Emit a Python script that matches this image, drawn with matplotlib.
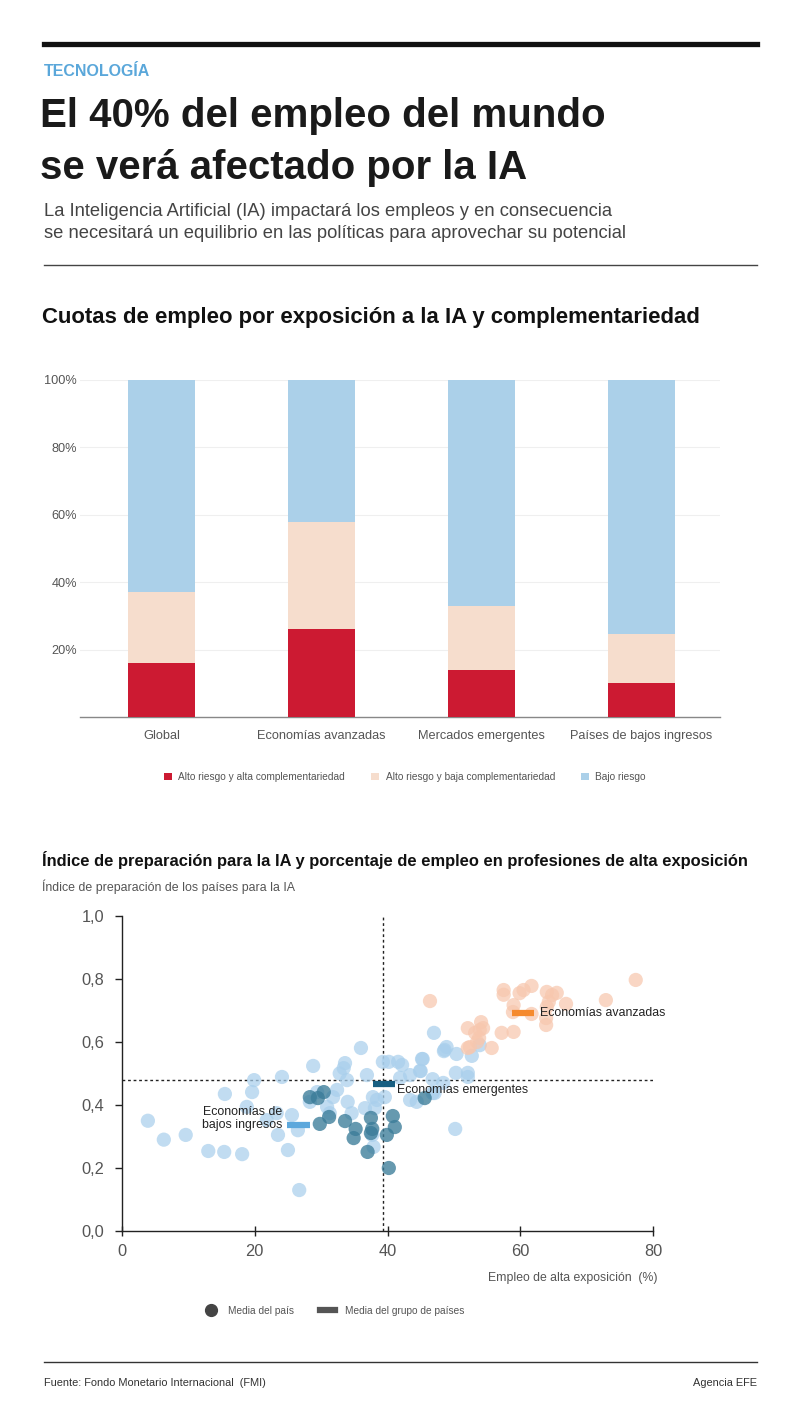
import matplotlib
matplotlib.use("Agg")
import matplotlib.pyplot as plt
from matplotlib.lines import Line2D
import numpy as np

plt.rcParams['font.family'] = ['Liberation Sans', 'DejaVu Sans']

W, H = 800, 1426

# ---- datos: gráfico de barras ----
grupos = ["Global", "Economías avanzadas", "Mercados emergentes", "Países de bajos ingresos"]
alto_alta = [16, 26, 14, 10]
alto_baja = [21, 32, 19, 14.5]
bajo_riesgo = [63, 42, 67, 75.5]
series_barras = ["Alto riesgo y alta complementariedad", "Alto riesgo y baja complementariedad", "Bajo riesgo"]

# ---- datos: dispersión (exposición %, índice de preparación) ----
avanz_x = [46.4, 57.5, 57.5, 59.9, 60.5, 61.7, 59.0, 58.9, 61.7, 64.0, 64.8, 65.5, 64.3, 64.0,
           66.9, 63.9, 63.9, 72.9, 77.4, 52.1, 54.1, 53.9, 53.2, 54.4, 53.8, 53.5, 57.2, 59.0,
           52.4, 52.1, 55.7]
avanz_y = [0.73, 0.765, 0.75, 0.755, 0.765, 0.778, 0.717, 0.695, 0.689, 0.759, 0.749, 0.756,
           0.727, 0.711, 0.721, 0.676, 0.654, 0.733, 0.797, 0.644, 0.663, 0.638, 0.629, 0.644,
           0.613, 0.60, 0.629, 0.632, 0.584, 0.581, 0.581]

emerg_x = [3.9, 6.3, 9.6, 13.0, 15.4, 18.1, 15.5, 19.6, 19.9, 24.1, 18.8, 21.8, 23.3, 23.5,
           25.0, 25.6, 26.5, 26.7, 28.8, 28.3, 29.4, 30.9, 31.3, 31.8, 32.4, 32.8, 33.6, 33.4,
           33.9, 34.0, 34.6, 36.0, 36.9, 36.6, 37.8, 38.4, 38.1, 37.7, 37.9, 39.3, 40.2, 41.6,
           42.2, 41.9, 43.4, 45.2, 44.9, 47.0, 48.6, 48.9, 43.4, 44.4, 46.8, 39.6, 48.5, 50.4,
           52.7, 45.0, 50.3, 52.1, 52.1, 46.8, 48.4, 47.1, 50.2, 53.9, 45.3]
emerg_y = [0.35, 0.29, 0.305, 0.254, 0.251, 0.244, 0.435, 0.441, 0.479, 0.489, 0.394, 0.352,
           0.374, 0.305, 0.257, 0.368, 0.32, 0.13, 0.524, 0.41, 0.441, 0.394, 0.374, 0.425,
           0.448, 0.50, 0.533, 0.517, 0.479, 0.41, 0.374, 0.581, 0.495, 0.39, 0.425, 0.416,
           0.39, 0.305, 0.267, 0.537, 0.537, 0.537, 0.527, 0.486, 0.495, 0.546, 0.508, 0.629,
           0.575, 0.584, 0.416, 0.41, 0.438, 0.425, 0.571, 0.562, 0.556, 0.508, 0.502, 0.502,
           0.489, 0.482, 0.47, 0.438, 0.324, 0.59, 0.546]

bajos_x = [28.3, 29.5, 30.4, 29.8, 31.2, 33.6, 35.2, 34.9, 37.5, 37.7, 37.5, 37.0, 39.9, 40.8,
           41.1, 40.2, 45.6]
bajos_y = [0.425, 0.422, 0.441, 0.34, 0.362, 0.349, 0.324, 0.295, 0.359, 0.324, 0.311, 0.251,
           0.305, 0.365, 0.33, 0.20, 0.422]

# medias de grupo
media_nombres = ["Economías avanzadas", "Economías emergentes", "Economías de\nbajos ingresos"]
media_x = [60.4, 39.5, 26.6]
media_y = [0.692, 0.467, 0.337]
media_col = ["#F58A2E", "#185F82", "#5DA8DC"]
ref_x = 39.3
ref_y = 0.479

rojo = "#CC1A32"
melocoton = "#F6DDCD"
azul = "#ABD0E9"
gris = "#555555"


def fy(py):
    return 1 - py / H


def fx(px):
    return px / W


fig = plt.figure(figsize=(W / 100, H / 100), dpi=100)

# ---- cabecera ----
fig.add_artist(Line2D([fx(44), fx(757)], [fy(44), fy(44)], color="#111111", lw=3.8))
fig.text(fx(44), fy(71), "TECNOLOGÍA", color="#5AA7DA", fontsize=11.5, fontweight="bold", va="center")
fig.text(fx(40), fy(116), "El 40% del empleo del mundo", color="#1a1a1a", fontsize=29,
         fontweight="bold", va="center")
fig.text(fx(40), fy(168), "se verá afectado por la IA", color="#1a1a1a", fontsize=29,
         fontweight="bold", va="center")
fig.text(fx(44), fy(211), "La Inteligencia Artificial (IA) impactará los empleos y en consecuencia",
         color="#444444", fontsize=13.2, va="center")
fig.text(fx(44), fy(234), "se necesitará un equilibrio en las políticas para aprovechar su potencial",
         color="#444444", fontsize=13.2, va="center")
fig.add_artist(Line2D([fx(44), fx(757)], [fy(265), fy(265)], color="#444444", lw=1.0))

# ---- gráfico de barras ----
fig.text(fx(42), fy(318), "Cuotas de empleo por exposición a la IA y complementariedad",
         color="#111111", fontsize=15.9, fontweight="bold", va="center")

ax1 = fig.add_axes([fx(80), fy(717), fx(720) - fx(80), fy(380) - fy(717)])
pos = np.arange(len(grupos))
b1 = ax1.bar(pos, alto_alta, width=0.42, color=rojo, label=series_barras[0], zorder=3)
b2 = ax1.bar(pos, alto_baja, width=0.42, bottom=alto_alta, color=melocoton,
             label=series_barras[1], zorder=3)
base2 = np.array(alto_alta) + np.array(alto_baja)
b3 = ax1.bar(pos, bajo_riesgo, width=0.42, bottom=base2, color=azul, label=series_barras[2], zorder=3)
ax1.set_xlim(-0.51, 3.49)
ax1.set_ylim(0, 100)
ax1.set_yticks([20, 40, 60, 80, 100])
ax1.set_yticklabels(["20%", "40%", "60%", "80%", "100%"])
ax1.set_xticks(pos)
ax1.set_xticklabels(grupos)
ax1.tick_params(axis="both", length=0, labelsize=9.2, labelcolor=gris)
ax1.tick_params(axis="x", pad=9)
ax1.tick_params(axis="y", pad=2)
ax1.grid(axis="y", color="#EFEFEF", lw=0.8, zorder=0)
for s in ["top", "right", "left"]:
    ax1.spines[s].set_visible(False)
ax1.spines["bottom"].set_color("#888888")
ax1.spines["bottom"].set_linewidth(1.0)

leg1 = fig.legend(handles=[b1, b2, b3], loc="center", bbox_to_anchor=(fx(405), fy(777)), ncol=3,
                  frameon=False, fontsize=7.3, handlelength=0.8, handleheight=0.8,
                  columnspacing=2.6, handletextpad=0.6)
for t in leg1.get_texts():
    t.set_color(gris)

# ---- gráfico de dispersión ----
fig.text(fx(42), fy(860),
         "Índice de preparación para la IA y porcentaje de empleo en profesiones de alta exposición",
         color="#111111", fontsize=11.9, fontweight="bold", va="center")
fig.text(fx(42), fy(887), "Índice de preparación de los países para la IA", color=gris,
         fontsize=8.9, va="center")

ax2 = fig.add_axes([fx(122), fy(1231), fx(653) - fx(122), fy(916) - fy(1231)])
ax2.scatter(emerg_x, emerg_y, s=105, color="#A9CFEC", alpha=0.72, edgecolors="none", zorder=2)
ax2.scatter(avanz_x, avanz_y, s=105, color="#F7C7AE", alpha=0.72, edgecolors="none", zorder=2)
ax2.scatter(bajos_x, bajos_y, s=105, color="#3B7C99", alpha=0.78, edgecolors="none", zorder=3)
ax2.axvline(ref_x, color="#222222", lw=1.0, ls=(0, (2, 2)), zorder=1)
ax2.axhline(ref_y, color="#222222", lw=1.0, ls=(0, (2, 2)), zorder=1)
for i in range(3):
    ax2.plot([media_x[i] - 1.7, media_x[i] + 1.7], [media_y[i], media_y[i]], color=media_col[i],
             lw=4.5, solid_capstyle="butt", zorder=4)
ax2.text(media_x[0] + 2.6, media_y[0], media_nombres[0], fontsize=8.9, color="#222222",
         va="center", zorder=5)
ax2.text(media_x[1] + 2.0, media_y[1] - 0.018, media_nombres[1], fontsize=8.9, color="#222222",
         va="center", zorder=5)
ax2.text(media_x[2] - 2.4, media_y[2] + 0.02, media_nombres[2], fontsize=8.9, color="#222222",
         va="center", ha="right", linespacing=1.05, zorder=5)
ax2.set_xlim(0, 80)
ax2.set_ylim(0, 1.0)
ax2.set_xticks([0, 20, 40, 60, 80])
ax2.set_yticks([0, 0.2, 0.4, 0.6, 0.8, 1.0])
ax2.set_yticklabels(["0,0", "0,2", "0,4", "0,6", "0,8", "1,0"])
ax2.tick_params(axis="both", labelsize=11.8, labelcolor=gris, color="#222222", width=1.0)
ax2.tick_params(axis="x", direction="inout", length=7, pad=6)
ax2.tick_params(axis="y", direction="out", length=5, pad=8)
for s in ["top", "right"]:
    ax2.spines[s].set_visible(False)
for s in ["left", "bottom"]:
    ax2.spines[s].set_color("#222222")
    ax2.spines[s].set_linewidth(1.0)
ax2.spines["left"].set_bounds(0, 1.0)

fig.text(fx(658), fy(1278), "Empleo de alta exposición  (%)", color=gris, fontsize=8.8,
         ha="right", va="center")

h1 = Line2D([], [], marker="o", ls="none", color="#444444", markersize=8.5)
h2 = Line2D([], [], color="#555555", lw=4.5)
leg2 = fig.legend(handles=[h1, h2], labels=["Media del país", "Media del grupo de países"],
                  loc="center", bbox_to_anchor=(fx(334), fy(1311)), ncol=2, frameon=False,
                  fontsize=7.3, handlelength=1.4, columnspacing=2.6, handletextpad=1.0)
for t in leg2.get_texts():
    t.set_color(gris)

# ---- pie ----
fig.add_artist(Line2D([fx(44), fx(757)], [fy(1362), fy(1362)], color="#333333", lw=1.0))
fig.text(fx(44), fy(1383), "Fuente: Fondo Monetario Internacional  (FMI)", color="#333333",
         fontsize=7.9, va="center")
fig.text(fx(757), fy(1383), "Agencia EFE", color="#333333", fontsize=7.9, va="center", ha="right")

fig.savefig("out.png", dpi=100, facecolor="white")
